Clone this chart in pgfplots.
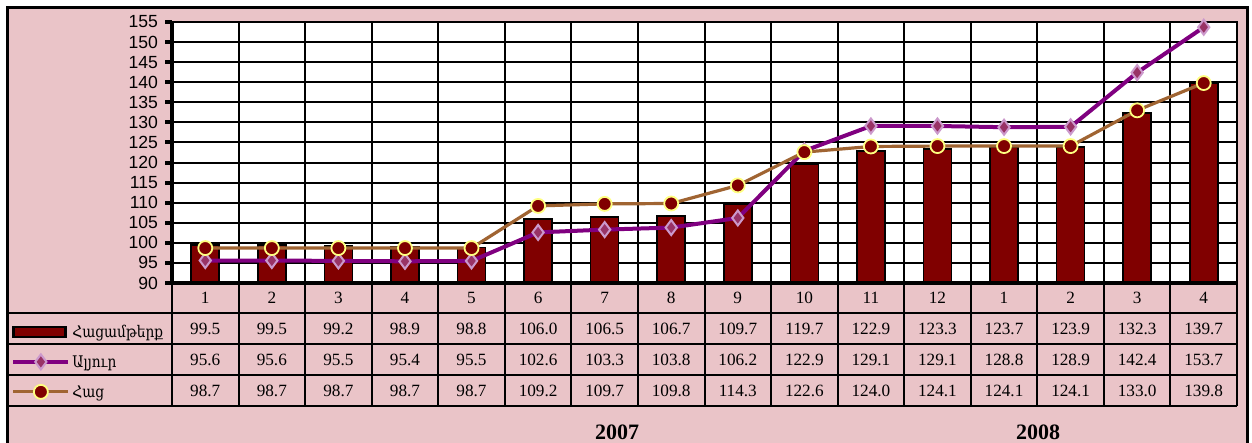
\documentclass[border=0pt]{standalone}
\usepackage{pgfplots}
\pgfplotsset{compat=1.18}
\usepackage{pgfplotstable}
\usepackage{fontspec}
\setmainfont{Liberation Serif}
\newfontfamily\arialfont{Liberation Sans}
\newfontfamily\armfont[FakeStretch=0.86]{DejaVu Serif}
\definecolor{bgpink}{RGB}{234,196,200}
\definecolor{barred}{RGB}{128,0,0}
\definecolor{flourline}{RGB}{128,0,128}
\definecolor{flourfill}{RGB}{153,51,102}
\definecolor{flourdraw}{RGB}{204,153,204}
\definecolor{breadline}{RGB}{160,100,50}
\definecolor{breadring}{RGB}{255,255,128}

\pgfplotsset{
  linelegend/.style={legend image code/.code={\draw[mark repeat=2,mark phase=2,##1] plot coordinates {(0pt,0.5pt) (13.75pt,0.5pt) (27.5pt,0.5pt)};}},
  barlegend/.style={legend image code/.code={\draw[fill=barred,draw=black,line width=1.2pt] (0pt,-2pt) rectangle (26pt,3pt);}},
}

\pgfplotstableread{
x bakery flour bread
1 99.5 95.6 98.7
2 99.5 95.6 98.7
3 99.2 95.5 98.7
4 98.9 95.4 98.7
5 98.8 95.5 98.7
6 106.0 102.6 109.2
7 106.5 103.3 109.7
8 106.7 103.8 109.8
9 109.7 106.2 114.3
10 119.7 122.9 122.6
11 122.9 129.1 124.0
12 123.3 129.1 124.1
13 123.7 128.8 124.1
14 123.9 128.9 124.1
15 132.3 142.4 133.0
16 139.7 153.7 139.8
}\datatable

\newcommand{\tabfont}{\fontsize{8.6}{10}\selectfont}

\begin{document}
\begin{tikzpicture}
\useasboundingbox (0pt,0pt) rectangle (626pt,221.5pt);
\fill[white] (0pt,0pt) rectangle (626pt,221.5pt);
\filldraw[fill=bgpink,draw=black,line width=1.2pt] (3.75pt,-5pt) rectangle (623.75pt,217.75pt);
\begin{axis}[
  at={(86pt,80pt)}, anchor=south west,
  scale only axis, width=532.5pt, height=130.5pt,
  xmin=0.5, xmax=16.5, ymin=90, ymax=155,
  axis background/.style={fill=white},
  xtick={0.5,1.5,...,16.5}, xticklabels={},
  xtick style={draw=none},
  ytick={90,95,...,155},
  ytick pos=left,
  xmajorgrids, ymajorgrids,
  grid style={black,line width=1pt},
  tick align=outside, major tick length=3.5pt,
  ytick style={black,line width=2pt},
  axis line style={black,line width=1pt},
  yticklabel style={font=\arialfont\fontsize{8.8}{10}\selectfont},
  /pgf/number format/assume math mode=true,
  clip mode=individual,
  legend style={at={(-0.1512,-0.157)}, anchor=north west, draw=none, fill=none,
    inner sep=0pt, font=\armfont\fontsize{8}{10}\selectfont, row sep=6.5pt,
    column sep=1pt,
    nodes={inner sep=0pt, text height=6.5pt, text depth=2pt}},
  legend cell align=left,
]
\addplot[ybar, bar width=14pt, fill=barred, draw=black, line width=0.8pt, barlegend]
  table[x=x,y=bakery]{\datatable};
\addlegendentry{Հացամթերք}
\addplot[flourline, line width=2pt, mark=diamond*, mark size=3.75pt,
  mark options={fill=flourfill, draw=flourdraw, line width=1pt}, linelegend]
  table[x=x,y=flour]{\datatable};
\addlegendentry{Ալյուր}
\addplot[breadline, line width=1.6pt, mark=*, mark size=3.5pt,
  mark options={fill=barred, draw=breadring, line width=0.9pt}, linelegend]
  table[x=x,y=bread]{\datatable};
\addlegendentry{Հաց}
\end{axis}
% data table grid
\foreach \k in {0,...,16} {
  \pgfmathsetmacro{\xx}{86+\k*33.28125}
  \draw[line width=1pt] (\xx pt,80pt) -- (\xx pt,18.5pt);
}
\foreach \yy in {65,49.5,34,18.5} \draw[line width=1pt] (3.75pt,\yy pt) -- (618.5pt,\yy pt);
\draw[line width=2pt] (86pt,79.5pt) -- (86pt,210.5pt);
\draw[line width=2pt] (85pt,80pt) -- (619pt,80pt);
\foreach \r in {0,...,15} {
  \pgfmathsetmacro{\xc}{86+(\r+0.5)*33.28125}
  \pgfmathtruncatemacro{\mm}{mod(\r,12)+1}
  \node[font=\tabfont] at (\xc pt,72.5pt) {\mm};
  \pgfplotstablegetelem{\r}{bakery}\of\datatable
  \node[font=\tabfont] at (\xc pt,57.25pt) {\pgfplotsretval};
  \pgfplotstablegetelem{\r}{flour}\of\datatable
  \node[font=\tabfont] at (\xc pt,41.75pt) {\pgfplotsretval};
  \pgfplotstablegetelem{\r}{bread}\of\datatable
  \node[font=\tabfont] at (\xc pt,26.25pt) {\pgfplotsretval};
}
\node[font=\bfseries\fontsize{11}{13}\selectfont] at (308.5pt,5.5pt) {2007};
\node[font=\bfseries\fontsize{11}{13}\selectfont] at (519pt,5.5pt) {2008};
\end{tikzpicture}
\end{document}
